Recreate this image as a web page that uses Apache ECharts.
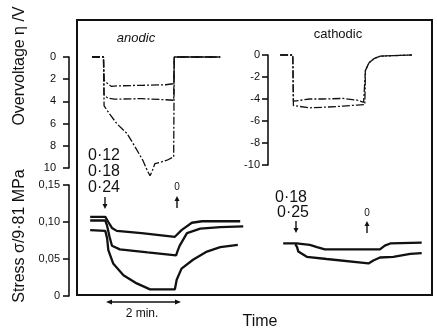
<!DOCTYPE html>
<html>
<head>
<meta charset="utf-8">
<script src="https://cdn.jsdelivr.net/npm/echarts@6/dist/echarts.min.js"></script>
<style>
  html, body { margin: 0; padding: 0; background: #fff; }
  #main { width: 437px; height: 333px; }
</style>
</head>
<body>
<div id="main"></div>
<script>
// time in seconds, 0 = anodic current switched on
// overvoltage, anodic (V)
const anodicEta012 = [[-22, 0], [-3, 0], [-2, 2.1], [4, 2.4], [10, 2.65], [20, 2.6], [60, 2.55], [100, 2.5], [113, 2.4], [114, 0], [190, 0]];
const anodicEta018 = [[-22, 0], [-3, 0], [-2, 3.4], [4, 3.7], [15, 3.8], [60, 3.75], [100, 3.85], [113, 3.9], [114, 0], [190, 0]];
const anodicEta024 = [[-22, 0], [-3, 0], [-2, 4.4], [8, 5.2], [19, 6.0], [36, 6.9], [46, 7.8], [62, 9.3], [70, 10.3], [74, 10.7], [78, 10.2], [82, 9.6], [90, 9.5], [102, 9.3], [113, 9.0], [114, 0], [190, 0]];

// overvoltage, cathodic (V)
const cathodicEta018 = [[289, 0], [310, 0], [311, -4.2], [314, -4.3], [338, -4.0], [360, -4.0], [393, -3.95], [416, -4.1], [427, -4.3], [429, -4.3], [430, -1.4], [436, -0.7], [445, -0.3], [455, -0.1], [507, 0]];
const cathodicEta025 = [[289, 0], [310, 0], [311, -4.6], [314, -4.7], [338, -4.8], [360, -4.75], [393, -4.65], [416, -4.55], [429, -4.5], [430, -1.4], [436, -0.7], [445, -0.3], [455, -0.1], [507, 0]];

// stress (x 9.81 MPa)
const stressA012 = [[-25, 0.107], [0, 0.107], [5, 0.100], [11, 0.092], [19, 0.088], [60, 0.085], [115, 0.080], [118, 0.081], [126, 0.089], [143, 0.099], [160, 0.101], [223, 0.101]];
const stressA018 = [[-25, 0.102], [0, 0.102], [3, 0.095], [7, 0.080], [11, 0.068], [24, 0.063], [70, 0.059], [117, 0.055], [120, 0.062], [123, 0.068], [135, 0.085], [157, 0.091], [190, 0.093], [228, 0.094]];
const stressA024 = [[-25, 0.089], [0, 0.088], [3, 0.078], [5, 0.062], [13, 0.044], [30, 0.028], [52, 0.017], [74, 0.009], [115, 0.009], [118, 0.022], [126, 0.037], [145, 0.049], [168, 0.060], [190, 0.066], [219, 0.069]];
const stressC018 = [[294, 0.071], [316, 0.071], [338, 0.069], [350, 0.066], [363, 0.063], [393, 0.063], [454, 0.063], [462, 0.068], [471, 0.071], [523, 0.072]];
const stressC025 = [[314, 0.070], [317, 0.066], [319, 0.060], [333, 0.053], [366, 0.050], [435, 0.044], [443, 0.048], [454, 0.052], [476, 0.053], [504, 0.057], [523, 0.058]];

const FONT = 'Liberation Sans';
const INK = '#111';

const chart = echarts.init(document.getElementById('main'));

function yAx(grid, min, max, interval, margin, extra) {
  return Object.assign({
    gridIndex: grid,
    type: 'value',
    min: min,
    max: max,
    interval: interval,
    axisLine: { show: true, onZero: false, lineStyle: { color: INK, width: 1.6 } },
    axisTick: { show: true, length: 6, lineStyle: { color: INK, width: 1.6 } },
    axisLabel: { color: INK, fontSize: 11, fontFamily: FONT, margin: margin },
    splitLine: { show: false }
  }, extra || {});
}

function xAx(grid, min, max) {
  return { gridIndex: grid, type: 'value', min: min, max: max, show: false };
}

function dashed(data, xi) {
  return {
    type: 'line', data: data, xAxisIndex: xi, yAxisIndex: xi,
    symbol: 'none', silent: true, clip: false,
    lineStyle: { color: INK, width: 1.3, type: [8, 2, 2, 2] }
  };
}

function solid(data) {
  return {
    type: 'line', data: data, xAxisIndex: 2, yAxisIndex: 2,
    symbol: 'none', silent: true, clip: false,
    lineStyle: { color: INK, width: 2.3 }
  };
}

function txt(x, y, s, size, extra) {
  return {
    type: 'text', x: x, y: y, silent: true,
    style: Object.assign({ text: s, fill: INK, font: size + 'px "' + FONT + '"', textAlign: 'center', textVerticalAlign: 'middle' }, extra || {})
  };
}

function arrow(x, y0, y1) {
  // arrow from y0 to y1, head at y1
  const d = y1 > y0 ? 1 : -1;
  return [
    { type: 'line', silent: true, shape: { x1: x, y1: y0, x2: x, y2: y1 - 3 * d }, style: { stroke: INK, lineWidth: 1.4 } },
    { type: 'polygon', silent: true, shape: { points: [[x - 2.5, y1 - 5 * d], [x + 2.5, y1 - 5 * d], [x, y1]] }, style: { fill: INK } }
  ];
}

const titleV = txt(20, 66, 'Overvoltage η /V', 16);
titleV.rotation = Math.PI / 2;
const titleS = txt(20, 236, 'Stress σ/9·81 MPa', 16);
titleS.rotation = Math.PI / 2;

const graphics = [
  { type: 'rect', silent: true, shape: { x: 77, y: 20, width: 355, height: 275 }, style: { fill: 'none', stroke: INK, lineWidth: 2 } },
  txt(136, 38, 'anodic', 13, { font: 'italic 13px "' + FONT + '"' }),
  txt(338, 34, 'cathodic', 13),
  titleV,
  titleS,
  txt(104, 156, '0·12', 16),
  txt(104, 172, '0·18', 16),
  txt(104, 188, '0·24', 16),
  txt(177, 187, '0', 10),
  txt(291, 198, '0·18', 16),
  txt(293, 213, '0·25', 16),
  txt(367, 213, '0', 10),
  txt(142, 314, '2 min.', 12),
  txt(260, 322, 'Time', 16)
].concat(arrow(105, 197, 209), arrow(177, 208, 196), arrow(296, 221, 233), arrow(367, 233, 221), [
  { type: 'line', silent: true, shape: { x1: 110, y1: 302, x2: 177, y2: 302 }, style: { stroke: INK, lineWidth: 1.4 } },
  { type: 'polygon', silent: true, shape: { points: [[106, 302], [112, 299.5], [112, 304.5]] }, style: { fill: INK } },
  { type: 'polygon', silent: true, shape: { points: [[181, 302], [175, 299.5], [175, 304.5]] }, style: { fill: INK } }
]);

chart.setOption({
  animation: false,
  backgroundColor: '#fff',
  grid: [
    { left: 69, top: 57, width: 363, height: 111, outerBoundsMode: 'none' },
    { left: 268, top: 55, width: 164, height: 110, outerBoundsMode: 'none' },
    { left: 69, top: 185, width: 363, height: 111, outerBoundsMode: 'none' }
  ],
  xAxis: [xAx(0, -60, 540), xAx(1, 269, 540), xAx(2, -60, 540)],
  yAxis: [
    yAx(0, 0, 10, 2, 13, { inverse: true }),
    yAx(1, -10, 0, 2, 8),
    yAx(2, 0, 0.15, 0.05, 9, {
      axisLabel: {
        color: INK, fontSize: 11, fontFamily: FONT, margin: 9,
        formatter: function (v) { return v === 0 ? '0' : v.toFixed(2).replace('.', ','); }
      }
    })
  ],
  series: [
    dashed(anodicEta012, 0),
    dashed(anodicEta018, 0),
    dashed(anodicEta024, 0),
    dashed(cathodicEta018, 1),
    dashed(cathodicEta025, 1),
    solid(stressA012),
    solid(stressA018),
    solid(stressA024),
    solid(stressC018),
    solid(stressC025)
  ],
  graphic: graphics
});
</script>
</body>
</html>
